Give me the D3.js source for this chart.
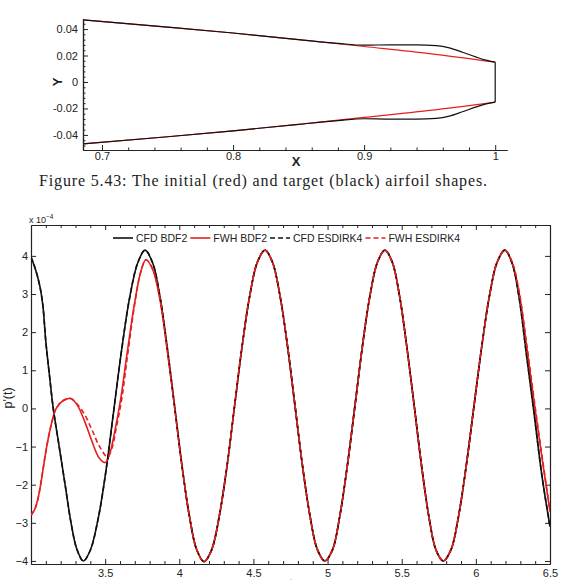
<!DOCTYPE html>
<html>
<head>
<meta charset="utf-8">
<script src="https://cdn.jsdelivr.net/npm/d3@7"></script>
<style>
  body { margin: 0; background: #fff; }
  svg text { font-family: "Liberation Sans", Arial, sans-serif; fill: #222; }
</style>
</head>
<body>
<svg id="fig" width="568" height="580"></svg>
<script>
// ---- airfoil shapes (top panel), [x, y] ----
const initialUpper = [[0.6855, 0.0470], [0.75, 0.0415], [0.80, 0.0370], [0.85, 0.0320], [0.90, 0.0268], [0.95, 0.0215], [1.00, 0.0150]];
const initialLower = [[0.6855, -0.0468], [0.75, -0.0414], [0.80, -0.0369], [0.85, -0.0320], [0.90, -0.0268], [0.95, -0.0215], [1.00, -0.0152]];
const targetUpper = [[0.6855, 0.0470], [0.75, 0.0415], [0.80, 0.0370], [0.85, 0.0320], [0.88, 0.0292], [0.90, 0.0278], [0.92, 0.0281], [0.94, 0.0281], [0.955, 0.0275], [0.965, 0.0258], [0.975, 0.0225], [0.985, 0.0190], [0.993, 0.0165], [1.00, 0.0150]];
const targetLower = [[0.6855, -0.0468], [0.75, -0.0414], [0.80, -0.0369], [0.85, -0.0320], [0.88, -0.0292], [0.90, -0.0278], [0.92, -0.0281], [0.94, -0.0281], [0.955, -0.0275], [0.965, -0.0258], [0.975, -0.0225], [0.985, -0.0190], [0.993, -0.0165], [1.00, -0.0152]];
const topXTicks = [0.7, 0.8, 0.9, 1];
const topYTicks = [-0.04, -0.02, 0, 0.02, 0.04];

// ---- acoustic pressure p'(t) x 1e-4 (bottom panel), [t, p] ----
const cfdBdf2 = [
  [3.000, 3.97], [3.030, 3.65], [3.060, 3.20], [3.080, 2.70], [3.100, 1.75], [3.125, 0.85], [3.150, 0.00],
  [3.190, -1.00], [3.230, -2.00], [3.270, -3.00], [3.310, -3.70], [3.353, -4.00],
  [3.400, -3.72], [3.455, -2.85], [3.505, -1.65], [3.555, -0.15], [3.610, 1.50], [3.665, 2.90], [3.720, 3.82], [3.769, 4.15],
  [3.820, 3.82], [3.869, 2.95], [3.918, 1.62], [3.968, 0.07], [4.018, -1.50], [4.068, -2.82], [4.117, -3.70], [4.167, -4.02],
  [4.218, -3.71], [4.270, -2.82], [4.322, -1.51], [4.373, 0.07], [4.424, 1.64], [4.475, 2.95], [4.527, 3.84], [4.578, 4.15],
  [4.628, 3.84], [4.679, 2.96], [4.730, 1.63], [4.780, 0.08], [4.830, -1.48], [4.881, -2.81], [4.932, -3.71], [4.982, -4.00],
  [5.033, -3.71], [5.083, -2.81], [5.134, -1.48], [5.185, 0.08], [5.235, 1.63], [5.286, 2.96], [5.337, 3.84], [5.387, 4.15],
  [5.436, 3.84], [5.485, 2.96], [5.534, 1.63], [5.584, 0.08], [5.633, -1.48], [5.682, -2.81], [5.731, -3.71], [5.780, -4.00],
  [5.832, -3.71], [5.884, -2.81], [5.936, -1.48], [5.988, 0.08], [6.040, 1.63], [6.092, 2.96], [6.144, 3.84], [6.196, 4.15],
  [6.245, 3.80], [6.290, 2.95], [6.340, 1.45], [6.390, -0.05], [6.445, -1.75], [6.500, -3.10]
];
const fwhBdf2 = [
  [3.000, -2.80], [3.025, -2.65], [3.045, -2.40], [3.065, -2.00], [3.085, -1.50], [3.106, -1.00], [3.135, -0.45], [3.170, 0.00],
  [3.215, 0.20], [3.268, 0.26], [3.310, 0.10], [3.360, -0.32], [3.410, -0.85], [3.460, -1.30], [3.500, -1.42],
  [3.530, -1.20], [3.565, -0.60], [3.605, 0.25], [3.650, 1.50], [3.700, 2.80], [3.740, 3.58], [3.775, 3.90],
  [3.820, 3.65], [3.870, 2.85], [3.918, 1.55], [3.968, 0.05], [4.018, -1.50], [4.068, -2.82], [4.117, -3.70], [4.167, -4.02],
  [4.218, -3.71], [4.270, -2.82], [4.322, -1.51], [4.373, 0.07], [4.424, 1.64], [4.475, 2.95], [4.527, 3.84], [4.578, 4.15],
  [4.628, 3.84], [4.679, 2.96], [4.730, 1.63], [4.780, 0.08], [4.830, -1.48], [4.881, -2.81], [4.932, -3.71], [4.982, -4.00],
  [5.033, -3.71], [5.083, -2.81], [5.134, -1.48], [5.185, 0.08], [5.235, 1.63], [5.286, 2.96], [5.337, 3.84], [5.387, 4.15],
  [5.436, 3.84], [5.485, 2.96], [5.534, 1.63], [5.584, 0.08], [5.633, -1.48], [5.682, -2.81], [5.731, -3.71], [5.780, -4.00],
  [5.832, -3.71], [5.884, -2.81], [5.936, -1.48], [5.988, 0.08], [6.040, 1.63], [6.092, 2.96], [6.144, 3.84], [6.196, 4.15],
  [6.245, 3.82], [6.295, 2.95], [6.345, 1.55], [6.395, 0.10], [6.450, -1.40], [6.500, -2.70]
];
const cfdEsdirk4 = [
  [3.000, 3.97], [3.030, 3.65], [3.060, 3.20], [3.080, 2.70], [3.100, 1.75], [3.125, 0.85], [3.150, 0.00],
  [3.190, -1.00], [3.230, -2.00], [3.270, -3.00], [3.310, -3.70], [3.353, -4.00],
  [3.400, -3.72], [3.455, -2.85], [3.505, -1.65], [3.555, -0.15], [3.610, 1.50], [3.665, 2.90], [3.720, 3.82], [3.769, 4.15],
  [3.820, 3.82], [3.869, 2.95], [3.918, 1.62], [3.968, 0.07], [4.018, -1.50], [4.068, -2.82], [4.117, -3.70], [4.167, -4.02],
  [4.218, -3.71], [4.270, -2.82], [4.322, -1.51], [4.373, 0.07], [4.424, 1.64], [4.475, 2.95], [4.527, 3.84], [4.578, 4.15],
  [4.628, 3.84], [4.679, 2.96], [4.730, 1.63], [4.780, 0.08], [4.830, -1.48], [4.881, -2.81], [4.932, -3.71], [4.982, -4.00],
  [5.033, -3.71], [5.083, -2.81], [5.134, -1.48], [5.185, 0.08], [5.235, 1.63], [5.286, 2.96], [5.337, 3.84], [5.387, 4.15],
  [5.436, 3.84], [5.485, 2.96], [5.534, 1.63], [5.584, 0.08], [5.633, -1.48], [5.682, -2.81], [5.731, -3.71], [5.780, -4.00],
  [5.832, -3.71], [5.884, -2.81], [5.936, -1.48], [5.988, 0.08], [6.040, 1.63], [6.092, 2.96], [6.144, 3.84], [6.196, 4.15],
  [6.245, 3.80], [6.290, 2.95], [6.340, 1.45], [6.390, -0.05], [6.445, -1.75], [6.500, -3.10]
];
const fwhEsdirk4 = [
  [3.000, -2.80], [3.025, -2.65], [3.045, -2.40], [3.065, -2.00], [3.085, -1.50], [3.106, -1.00], [3.135, -0.45], [3.170, 0.00],
  [3.215, 0.20], [3.268, 0.26], [3.310, 0.12], [3.360, -0.15], [3.410, -0.55], [3.460, -0.98], [3.515, -1.27],
  [3.545, -1.05], [3.578, -0.45], [3.612, 0.25], [3.655, 1.50], [3.702, 2.80], [3.740, 3.58], [3.775, 3.90],
  [3.820, 3.66], [3.870, 2.87], [3.918, 1.57], [3.968, 0.05], [4.018, -1.50], [4.068, -2.82], [4.117, -3.70], [4.167, -4.02],
  [4.218, -3.71], [4.270, -2.82], [4.322, -1.51], [4.373, 0.07], [4.424, 1.64], [4.475, 2.95], [4.527, 3.84], [4.578, 4.15],
  [4.628, 3.84], [4.679, 2.96], [4.730, 1.63], [4.780, 0.08], [4.830, -1.48], [4.881, -2.81], [4.932, -3.71], [4.982, -4.00],
  [5.033, -3.71], [5.083, -2.81], [5.134, -1.48], [5.185, 0.08], [5.235, 1.63], [5.286, 2.96], [5.337, 3.84], [5.387, 4.15],
  [5.436, 3.84], [5.485, 2.96], [5.534, 1.63], [5.584, 0.08], [5.633, -1.48], [5.682, -2.81], [5.731, -3.71], [5.780, -4.00],
  [5.832, -3.71], [5.884, -2.81], [5.936, -1.48], [5.988, 0.08], [6.040, 1.63], [6.092, 2.96], [6.144, 3.84], [6.196, 4.15],
  [6.245, 3.84], [6.295, 3.00], [6.345, 1.62], [6.395, 0.18], [6.450, -1.35], [6.500, -2.70]
];
const seriesNames = ['CFD BDF2', 'FWH BDF2', 'CFD ESDIRK4', 'FWH ESDIRK4'];
const bottomXTicks = [3.5, 4, 4.5, 5, 5.5, 6, 6.5];
const bottomYTicks = [-4, -3, -2, -1, 0, 1, 2, 3, 4];

const RED = '#e3201f';
const svg = d3.select('#fig');

function styleAxis(g) {
  g.selectAll('path.domain').attr('stroke', '#222').attr('stroke-width', 1.2);
  g.selectAll('.tick line').attr('stroke', '#222');
  g.selectAll('.tick text').attr('fill', '#222');
  return g;
}

// ================= top panel: airfoil =================
const tx = d3.scaleLinear().domain([0.6855, 1.009]).range([83, 507]);
const ty = d3.scaleLinear().domain([-0.0514, 0.0476]).range([150, 19]);

const topMinorX = d3.range(35, 51).map(i => i * 0.02).filter(v => Math.abs(v * 10 - Math.round(v * 10)) > 1e-6);
const topMinorY = d3.range(-12, 12).map(i => i * 0.004).filter(v => Math.abs(v / 0.02 - Math.round(v / 0.02)) > 1e-6);

svg.append('g').attr('transform', 'translate(0,150)')
  .call(d3.axisBottom(tx).tickValues(topMinorX).tickSize(-2.5).tickSizeOuter(0).tickFormat(''))
  .call(styleAxis);
svg.append('g').attr('transform', 'translate(0,150)')
  .call(d3.axisBottom(tx).tickValues(topXTicks).tickSize(-5).tickSizeOuter(0).tickPadding(2).tickFormat(d => String(d)))
  .call(styleAxis)
  .call(g => g.selectAll('text').style('font-size', '11px'));

svg.append('g').attr('transform', 'translate(83,0)')
  .call(d3.axisLeft(ty).tickValues(topMinorY).tickSize(-2.5).tickSizeOuter(0).tickFormat(''))
  .call(styleAxis);
svg.append('g').attr('transform', 'translate(83,0)')
  .call(d3.axisLeft(ty).tickValues(topYTicks).tickSize(-5).tickSizeOuter(0).tickPadding(5)
    .tickFormat(d => d === 0 ? '0' : d.toFixed(2)))
  .call(styleAxis)
  .call(g => g.selectAll('text').style('font-size', '11px'));

svg.append('text').attr('x', 296).attr('y', 166).attr('text-anchor', 'middle')
  .style('font-size', '13px').style('font-weight', 'bold').text('X');
svg.append('text').attr('transform', 'translate(62,82) rotate(-90)').attr('text-anchor', 'middle')
  .style('font-size', '13px').style('font-weight', 'bold').text('Y');

const shapeLine = d3.line().x(d => tx(d[0])).y(d => ty(d[1])).curve(d3.curveMonotoneX);
[initialUpper, initialLower].forEach(s => {
  svg.append('path').datum(s).attr('d', shapeLine)
    .attr('fill', 'none').attr('stroke', RED).attr('stroke-width', 1.2);
});
[targetUpper, targetLower].forEach(s => {
  svg.append('path').datum(s).attr('d', shapeLine)
    .attr('fill', 'none').attr('stroke', '#111').attr('stroke-width', 1.2);
});
// trailing edge of the target shape
const teTop = targetUpper[targetUpper.length - 1], teBot = targetLower[targetLower.length - 1];
svg.append('line')
  .attr('x1', tx(teTop[0])).attr('y1', ty(teTop[1]))
  .attr('x2', tx(teBot[0])).attr('y2', ty(teBot[1]))
  .attr('stroke', '#111').attr('stroke-width', 1.2);

// caption
svg.append('text').attr('x', 39).attr('y', 186)
  .attr('textLength', 448).attr('lengthAdjust', 'spacing')
  .style('font-family', '"Liberation Serif", "DejaVu Serif", serif').style('font-size', '16px')
  .text('Figure 5.43: The initial (red) and target (black) airfoil shapes.');

// ================= bottom panel: p'(t) =================
const x = d3.scaleLinear().domain([3.0, 6.5]).range([31, 550]);
const y = d3.scaleLinear().domain([-4.08, 4.81]).range([564, 225]);

const minorT = d3.range(31, 65).map(i => i / 10).filter(v => Math.abs(v * 2 - Math.round(v * 2)) > 1e-6);

// bottom / top axes
svg.append('g').attr('transform', 'translate(0,564)')
  .call(d3.axisBottom(x).tickValues(minorT).tickSize(-3).tickSizeOuter(0).tickFormat(''))
  .call(styleAxis);
svg.append('g').attr('transform', 'translate(0,564)')
  .call(d3.axisBottom(x).tickValues(bottomXTicks).tickSize(-5).tickSizeOuter(0).tickPadding(5).tickFormat(d => String(d)))
  .call(styleAxis)
  .call(g => g.selectAll('text').style('font-size', '11px'));
svg.append('g').attr('transform', 'translate(0,225)')
  .call(d3.axisTop(x).tickValues(minorT).tickSize(-3).tickSizeOuter(0).tickFormat(''))
  .call(styleAxis);
svg.append('g').attr('transform', 'translate(0,225)')
  .call(d3.axisTop(x).tickValues(bottomXTicks).tickSize(-5).tickSizeOuter(0).tickFormat(''))
  .call(styleAxis);

// left / right axes
svg.append('g').attr('transform', 'translate(31,0)')
  .call(d3.axisLeft(y).tickValues(bottomYTicks).tickSize(-5).tickSizeOuter(0).tickPadding(3))
  .call(styleAxis)
  .call(g => g.selectAll('text').style('font-size', '11px'));
svg.append('g').attr('transform', 'translate(550,0)')
  .call(d3.axisRight(y).tickValues(bottomYTicks).tickSize(-5).tickSizeOuter(0).tickFormat(''))
  .call(styleAxis);

// axis titles
const mult = svg.append('text').attr('x', 29).attr('y', 223).style('font-size', '9px');
mult.append('tspan').text('x 10');
mult.append('tspan').attr('dy', -4).style('font-size', '6.5px').text('\u22124');

svg.append('text').attr('transform', 'translate(12,398) rotate(-90)').attr('text-anchor', 'middle')
  .style('font-size', '12.5px').text("p'(t)");
// x title sits at the page edge, as in the source figure
svg.append('text').attr('x', 291).attr('y', 588).attr('text-anchor', 'middle')
  .style('font-size', '13px').text('t');

// curves
const clip = svg.append('clipPath').attr('id', 'plotclip');
clip.append('rect').attr('x', 31).attr('y', 225).attr('width', 519).attr('height', 339);

const pLine = d3.line().x(d => x(d[0])).y(d => y(d[1])).curve(d3.curveCatmullRom.alpha(0.5));
const curveStyles = [
  { data: cfdBdf2, color: '#111', dash: null },
  { data: fwhBdf2, color: RED, dash: null },
  { data: cfdEsdirk4, color: '#111', dash: '5,3' },
  { data: fwhEsdirk4, color: RED, dash: '5,3' }
];
const curves = svg.append('g').attr('clip-path', 'url(#plotclip)');
curveStyles.forEach(c => {
  curves.append('path').datum(c.data).attr('d', pLine)
    .attr('fill', 'none').attr('stroke', c.color).attr('stroke-width', 1.6)
    .attr('stroke-dasharray', c.dash);
});

// legend
const legend = svg.append('g').attr('transform', 'translate(0,238)');
let lx = 113;
seriesNames.forEach((name, i) => {
  const st = curveStyles[i];
  legend.append('line').attr('x1', lx).attr('x2', lx + 20).attr('y1', 0).attr('y2', 0)
    .attr('stroke', st.color).attr('stroke-width', 1.6).attr('stroke-dasharray', st.dash);
  const t = legend.append('text').attr('x', lx + 23).attr('y', 3.6)
    .style('font-size', '10.5px').text(name);
  lx += 23 + t.node().getComputedTextLength() + 3;
});
</script>
</body>
</html>
